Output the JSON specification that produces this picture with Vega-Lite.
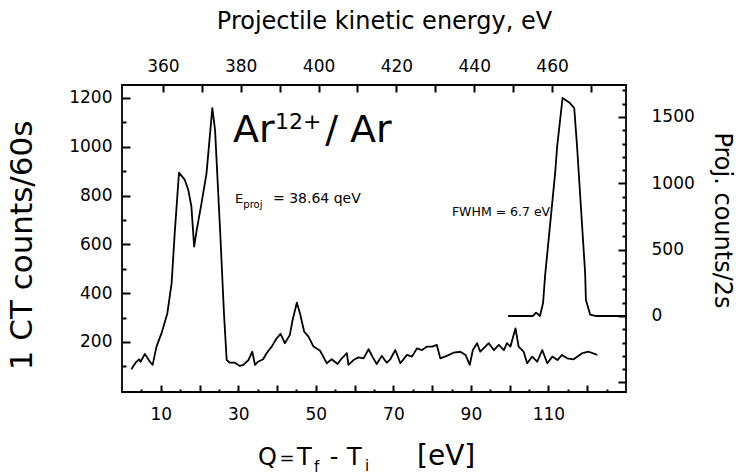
{
  "$schema": "https://vega.github.io/schema/vega-lite/v6.json",
  "width": 504,
  "height": 307,
  "autosize": {"type": "none"},
  "padding": {"left": 122, "top": 85, "right": 110, "bottom": 84},
  "background": "white",
  "config": {
    "font": "DejaVu Sans",
    "view": {"stroke": "black", "strokeWidth": 1.8},
    "axis": {
      "domain": false,
      "grid": false,
      "labelFont": "DejaVu Sans",
      "titleFont": "DejaVu Sans",
      "titleFontWeight": "normal",
      "labelColor": "black",
      "titleColor": "black",
      "tickColor": "black",
      "tickWidth": 2,
      "labelFlush": false,
      "labelOverlap": false,
      "labelFontSize": 17
    },
    "text": {"font": "DejaVu Sans", "color": "black"}
  },
  "datasets": {
    "ct": [
      {"Q": 2.4, "counts": 88}, {"Q": 3.5, "counts": 115}, {"Q": 4.4, "counts": 129}, {"Q": 4.8, "counts": 119},
      {"Q": 5.9, "counts": 151}, {"Q": 7.2, "counts": 119}, {"Q": 7.9, "counts": 106}, {"Q": 8.9, "counts": 181},
      {"Q": 10.2, "counts": 236}, {"Q": 11.7, "counts": 318}, {"Q": 12.8, "counts": 441}, {"Q": 13.6, "counts": 647},
      {"Q": 14.7, "counts": 894}, {"Q": 16.2, "counts": 864}, {"Q": 17.1, "counts": 823}, {"Q": 17.9, "counts": 755},
      {"Q": 18.6, "counts": 591}, {"Q": 19.2, "counts": 652}, {"Q": 20.5, "counts": 768}, {"Q": 21.8, "counts": 891},
      {"Q": 23.3, "counts": 1158}, {"Q": 24.0, "counts": 1069}, {"Q": 25.3, "counts": 659}, {"Q": 26.3, "counts": 318},
      {"Q": 27.0, "counts": 126}, {"Q": 27.8, "counts": 115}, {"Q": 29.1, "counts": 115}, {"Q": 30.4, "counts": 102},
      {"Q": 31.3, "counts": 106}, {"Q": 32.6, "counts": 126}, {"Q": 33.6, "counts": 160}, {"Q": 34.3, "counts": 106},
      {"Q": 35.1, "counts": 119}, {"Q": 36.4, "counts": 129}, {"Q": 37.3, "counts": 154}, {"Q": 38.6, "counts": 181},
      {"Q": 39.9, "counts": 215}, {"Q": 40.9, "counts": 233}, {"Q": 42.0, "counts": 195}, {"Q": 43.3, "counts": 229},
      {"Q": 44.0, "counts": 290}, {"Q": 45.1, "counts": 361}, {"Q": 45.9, "counts": 318}, {"Q": 47.0, "counts": 242},
      {"Q": 48.1, "counts": 222}, {"Q": 49.4, "counts": 181}, {"Q": 51.1, "counts": 164}, {"Q": 52.8, "counts": 113},
      {"Q": 54.1, "counts": 129}, {"Q": 55.6, "counts": 110}, {"Q": 56.7, "counts": 133}, {"Q": 58.0, "counts": 154},
      {"Q": 58.4, "counts": 106}, {"Q": 59.7, "counts": 126}, {"Q": 61.0, "counts": 137}, {"Q": 62.3, "counts": 133},
      {"Q": 63.6, "counts": 170}, {"Q": 64.7, "counts": 137}, {"Q": 65.7, "counts": 110}, {"Q": 67.0, "counts": 143},
      {"Q": 68.3, "counts": 115}, {"Q": 69.2, "counts": 129}, {"Q": 70.5, "counts": 167}, {"Q": 71.8, "counts": 113},
      {"Q": 73.5, "counts": 147}, {"Q": 74.8, "counts": 140}, {"Q": 76.1, "counts": 174}, {"Q": 77.4, "counts": 167},
      {"Q": 78.7, "counts": 181}, {"Q": 80.0, "counts": 181}, {"Q": 81.2, "counts": 188}, {"Q": 82.1, "counts": 133},
      {"Q": 83.8, "counts": 143}, {"Q": 85.5, "counts": 156}, {"Q": 87.3, "counts": 160}, {"Q": 88.6, "counts": 147},
      {"Q": 89.7, "counts": 106}, {"Q": 90.5, "counts": 167}, {"Q": 91.6, "counts": 195}, {"Q": 92.4, "counts": 160},
      {"Q": 93.7, "counts": 181}, {"Q": 94.6, "counts": 195}, {"Q": 95.9, "counts": 167}, {"Q": 97.2, "counts": 188},
      {"Q": 98.5, "counts": 167}, {"Q": 99.3, "counts": 195}, {"Q": 100.2, "counts": 181}, {"Q": 101.5, "counts": 256},
      {"Q": 102.3, "counts": 181}, {"Q": 103.6, "counts": 160}, {"Q": 104.5, "counts": 113}, {"Q": 105.8, "counts": 140},
      {"Q": 107.1, "counts": 119}, {"Q": 108.4, "counts": 167}, {"Q": 109.7, "counts": 113}, {"Q": 111.0, "counts": 140},
      {"Q": 112.3, "counts": 126}, {"Q": 113.5, "counts": 147}, {"Q": 114.8, "counts": 133}, {"Q": 116.5, "counts": 129},
      {"Q": 118.7, "counts": 154}, {"Q": 120.4, "counts": 160}, {"Q": 122.6, "counts": 147}
    ],
    "proj": [
      {"E": 448.7, "counts": 0}, {"E": 455.1, "counts": 0}, {"E": 455.9, "counts": 25}, {"E": 456.9, "counts": 0},
      {"E": 457.7, "counts": 100}, {"E": 458.2, "counts": 300}, {"E": 460.8, "counts": 1078}, {"E": 461.3, "counts": 1274},
      {"E": 462.7, "counts": 1643}, {"E": 464.6, "counts": 1605}, {"E": 465.7, "counts": 1567}, {"E": 466.4, "counts": 1289},
      {"E": 468.5, "counts": 324}, {"E": 468.7, "counts": 121}, {"E": 469.8, "counts": 10}, {"E": 471.1, "counts": 0},
      {"E": 479.0, "counts": 0}
    ]
  },
  "layer": [
    {
      "data": {"name": "ct"},
      "mark": {"type": "line", "color": "black", "strokeWidth": 1.8, "strokeJoin": "round"},
      "encoding": {
        "x": {
          "field": "Q", "type": "quantitative",
          "scale": {"domain": [0, 130], "nice": false, "zero": false},
          "axis": {
            "orient": "bottom",
            "values": [5, 10, 15, 20, 25, 30, 35, 40, 45, 50, 55, 60, 65, 70, 75, 80, 85, 90, 95, 100, 105, 110, 115, 120, 125],
            "labelExpr": "datum.value % 20 === 10 ? datum.label : ''",
            "tickSize": {"condition": {"test": "datum.value % 10 === 0", "value": -7}, "value": -3},
            "labelPadding": 21,
            "title": null
          }
        },
        "y": {
          "field": "counts", "type": "quantitative",
          "scale": {"domain": [-5, 1253], "nice": false, "zero": false},
          "axis": {
            "orient": "left",
            "values": [100, 200, 300, 400, 500, 600, 700, 800, 900, 1000, 1100, 1200],
            "labelExpr": "datum.value % 200 === 0 ? datum.label : ''",
            "format": "d",
            "tickSize": {"condition": {"test": "datum.value % 200 === 0", "value": -8}, "value": -4},
            "labelPadding": 18,
            "title": "1 CT counts/60s",
            "titleFontSize": 31,
            "titleAngle": 270,
            "titleX": -100,
            "titleY": 160,
            "titleAlign": "center",
            "titleBaseline": "middle"
          }
        }
      }
    },
    {
      "data": {"name": "proj"},
      "mark": {"type": "line", "color": "black", "strokeWidth": 1.8, "strokeJoin": "round"},
      "encoding": {
        "x": {
          "field": "E", "type": "quantitative",
          "scale": {"domain": [349.5, 479.0], "nice": false, "zero": false},
          "axis": {
            "orient": "top",
            "values": [360, 370, 380, 390, 400, 410, 420, 430, 440, 450, 460, 470],
            "labelExpr": "datum.value % 20 === 0 ? datum.label : ''",
            "tickSize": -7,
            "labelPadding": 17,
            "title": "Projectile kinetic energy, eV",
            "titleFontSize": 24,
            "titleX": 262,
            "titleY": -64,
            "titleAlign": "center",
            "titleBaseline": "middle"
          }
        },
        "y": {
          "field": "counts", "type": "quantitative",
          "scale": {"domain": [-573, 1741], "nice": false, "zero": false},
          "axis": {
            "orient": "right",
            "values": [-500, -400, -300, -200, -100, 0, 100, 200, 300, 400, 500, 600, 700, 800, 900, 1000, 1100, 1200, 1300, 1400, 1500, 1600, 1700],
            "labelExpr": "datum.value % 500 === 0 && datum.value >= 0 ? datum.label : ''",
            "format": "d",
            "tickSize": {"condition": {"test": "datum.value % 500 === 0", "value": -8}, "value": -4},
            "labelPadding": 33,
            "labelAlign": "left",
            "title": "Proj. counts/2s",
            "titleFontSize": 24,
            "titleAngle": 90,
            "titleX": 95,
            "titleY": 135,
            "titleAlign": "center",
            "titleBaseline": "middle"
          }
        }
      }
    },
    {
      "data": {"values": [{}]},
      "encoding": {
        "x": {"type": "quantitative", "scale": {"domain": [0, 130], "nice": false, "zero": false}, "axis": null},
        "y": {"type": "quantitative", "scale": {"domain": [-5, 1253], "nice": false, "zero": false}, "axis": null}
      },
      "layer": [
        {"mark": {"type": "text", "text": "Ar", "fontSize": 38, "align": "left", "baseline": "alphabetic"},
         "encoding": {"x": {"datum": 28.63, "scale": {"domain": [0, 130], "nice": false, "zero": false}, "axis": null}, "y": {"datum": 1019, "scale": {"domain": [-5, 1253], "nice": false, "zero": false}, "axis": null}}},
        {"mark": {"type": "text", "text": "12+", "fontSize": 22, "align": "left", "baseline": "alphabetic"},
         "encoding": {"x": {"datum": 39.46, "scale": {"domain": [0, 130], "nice": false, "zero": false}, "axis": null}, "y": {"datum": 1072, "scale": {"domain": [-5, 1253], "nice": false, "zero": false}, "axis": null}}},
        {"mark": {"type": "text", "text": "/ Ar", "fontSize": 38, "align": "left", "baseline": "alphabetic"},
         "encoding": {"x": {"datum": 52.4, "scale": {"domain": [0, 130], "nice": false, "zero": false}, "axis": null}, "y": {"datum": 1019, "scale": {"domain": [-5, 1253], "nice": false, "zero": false}, "axis": null}}},
        {"mark": {"type": "text", "text": "E", "fontSize": 13, "align": "left", "baseline": "alphabetic"},
         "encoding": {"x": {"datum": 29.15, "scale": {"domain": [0, 130], "nice": false, "zero": false}, "axis": null}, "y": {"datum": 769, "scale": {"domain": [-5, 1253], "nice": false, "zero": false}, "axis": null}}},
        {"mark": {"type": "text", "text": "proj", "fontSize": 10, "align": "left", "baseline": "alphabetic"},
         "encoding": {"x": {"datum": 31.3, "scale": {"domain": [0, 130], "nice": false, "zero": false}, "axis": null}, "y": {"datum": 748, "scale": {"domain": [-5, 1253], "nice": false, "zero": false}, "axis": null}}},
        {"mark": {"type": "text", "text": "= 38.64 qeV", "fontSize": 14, "align": "left", "baseline": "alphabetic"},
         "encoding": {"x": {"datum": 38.95, "scale": {"domain": [0, 130], "nice": false, "zero": false}, "axis": null}, "y": {"datum": 769, "scale": {"domain": [-5, 1253], "nice": false, "zero": false}, "axis": null}}},
        {"mark": {"type": "text", "text": "FWHM = 6.7  eV", "fontSize": 12.5, "align": "left", "baseline": "alphabetic"},
         "encoding": {"x": {"datum": 85.1, "scale": {"domain": [0, 130], "nice": false, "zero": false}, "axis": null}, "y": {"datum": 718, "scale": {"domain": [-5, 1253], "nice": false, "zero": false}, "axis": null}}},
        {"mark": {"type": "text", "text": "Q", "fontSize": 24, "align": "left", "baseline": "alphabetic"},
         "encoding": {"x": {"datum": 35.08, "scale": {"domain": [0, 130], "nice": false, "zero": false}, "axis": null}, "y": {"datum": -304, "scale": {"domain": [-5, 1253], "nice": false, "zero": false}, "axis": null}}},
        {"mark": {"type": "text", "text": "=", "fontSize": 18, "align": "center", "baseline": "alphabetic"},
         "encoding": {"x": {"datum": 42.56, "scale": {"domain": [0, 130], "nice": false, "zero": false}, "axis": null}, "y": {"datum": -300, "scale": {"domain": [-5, 1253], "nice": false, "zero": false}, "axis": null}}},
        {"mark": {"type": "text", "text": "T", "fontSize": 24, "align": "left", "baseline": "alphabetic"},
         "encoding": {"x": {"datum": 45.14, "scale": {"domain": [0, 130], "nice": false, "zero": false}, "axis": null}, "y": {"datum": -304, "scale": {"domain": [-5, 1253], "nice": false, "zero": false}, "axis": null}}},
        {"mark": {"type": "text", "text": "f", "fontSize": 15, "align": "left", "baseline": "alphabetic"},
         "encoding": {"x": {"datum": 49.52, "scale": {"domain": [0, 130], "nice": false, "zero": false}, "axis": null}, "y": {"datum": -332, "scale": {"domain": [-5, 1253], "nice": false, "zero": false}, "axis": null}}},
        {"mark": {"type": "text", "text": "-", "fontSize": 24, "align": "center", "baseline": "alphabetic"},
         "encoding": {"x": {"datum": 54.68, "scale": {"domain": [0, 130], "nice": false, "zero": false}, "axis": null}, "y": {"datum": -304, "scale": {"domain": [-5, 1253], "nice": false, "zero": false}, "axis": null}}},
        {"mark": {"type": "text", "text": "T", "fontSize": 24, "align": "left", "baseline": "alphabetic"},
         "encoding": {"x": {"datum": 58.03, "scale": {"domain": [0, 130], "nice": false, "zero": false}, "axis": null}, "y": {"datum": -304, "scale": {"domain": [-5, 1253], "nice": false, "zero": false}, "axis": null}}},
        {"mark": {"type": "text", "text": "i", "fontSize": 15, "align": "left", "baseline": "alphabetic"},
         "encoding": {"x": {"datum": 62.68, "scale": {"domain": [0, 130], "nice": false, "zero": false}, "axis": null}, "y": {"datum": -330, "scale": {"domain": [-5, 1253], "nice": false, "zero": false}, "axis": null}}},
        {"mark": {"type": "text", "text": "[eV]", "fontSize": 28, "align": "left", "baseline": "alphabetic"},
         "encoding": {"x": {"datum": 76.1, "scale": {"domain": [0, 130], "nice": false, "zero": false}, "axis": null}, "y": {"datum": -304, "scale": {"domain": [-5, 1253], "nice": false, "zero": false}, "axis": null}}}
      ]
    }
  ],
  "resolve": {"scale": {"x": "independent", "y": "independent"}, "axis": {"x": "independent", "y": "independent"}}
}
